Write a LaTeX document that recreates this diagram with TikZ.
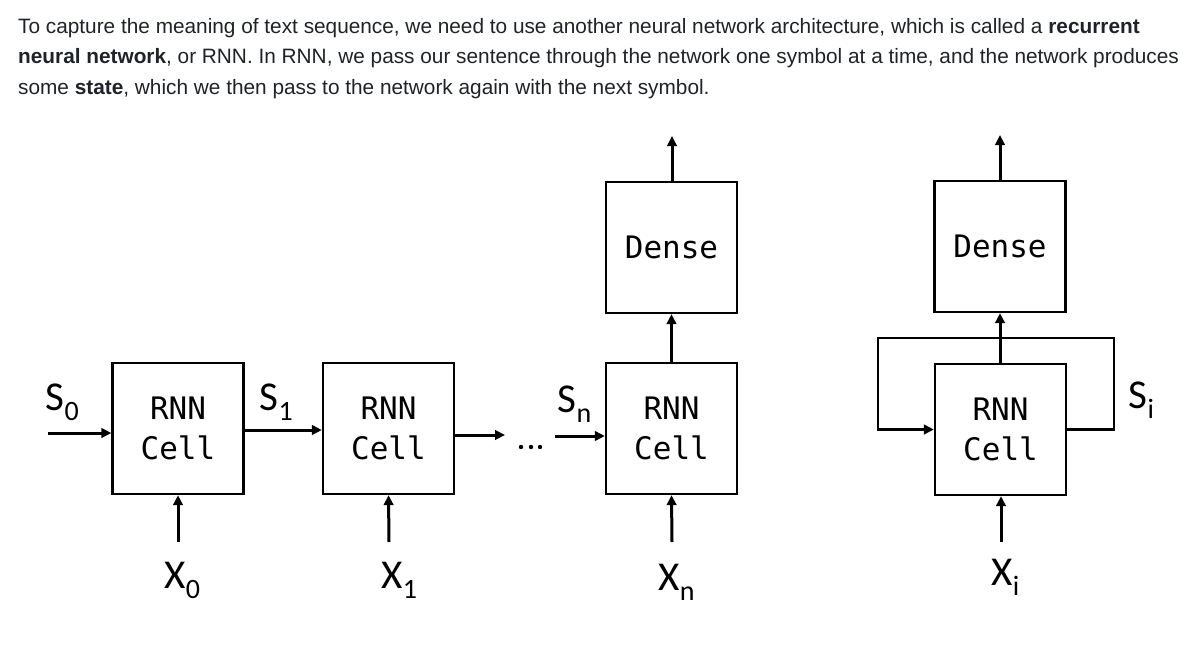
\documentclass[tikz,border=0pt]{standalone}
\usepackage{fontspec}
\setmainfont{Liberation Sans}
\newfontfamily\monof{DejaVu Sans Mono}
\newfontfamily\labf{Carlito}
\usetikzlibrary{arrows.meta}
\definecolor{txt}{HTML}{1F2328}
\newcommand\lbl[2]{#1\kern0.5pt\raisebox{-10.5pt}{\fontsize{28}{28}\selectfont #2}}
\tikzset{
  cell/.style={draw, line width=2.3pt, minimum width=131pt, minimum height=131pt, inner sep=0pt,
    font=\monof\fontsize{31}{40}\selectfont, align=center},
  arr/.style={line width=3pt, -{Triangle[length=10pt,width=9.5pt]}},
  loopline/.style={line width=2.8pt, -{Triangle[length=10pt,width=9.5pt]}},
  lab/.style={font=\labf\fontsize{41}{41}\selectfont, inner sep=0pt, anchor=base west},
  para/.style={anchor=base west, inner sep=0pt, font=\fontsize{20.8}{24}\selectfont, text=txt},
  dot/.style={fill=black},
}
\begin{document}
\begin{tikzpicture}[x=1pt,y=-1pt]
\useasboundingbox[fill=white] (0,0) rectangle (1200,645);
% paragraph
\node[para] (p1) at (18,33) {To capture the meaning of text sequence, we need to use another neural network architecture, which is called a \textbf{recurrent}};
\node[para] (p2) at (18,63) {\textbf{neural network}, or RNN. In RNN, we pass our sentence through the network one symbol at a time, and the network produces};
\node[para] (p3) at (18,94) {some \textbf{state}, which we then pass to the network again with the next symbol.};

% cells
\node[cell] (c1) at (178,428.5) {RNN\\Cell};
\node[cell] (c2) at (388.5,428.5) {RNN\\Cell};
\node[cell] (c3) at (671.5,428.5) {RNN\\Cell};
\node[cell] (c4) at (1000.5,429.5) {RNN\\Cell};
\node[cell] (d3) at (671.5,247.5) {Dense};
\node[cell] (d4) at (1000,246.5) {Dense};

% labels
\node[lab] (s0) at (45,410) {\lbl{S}{0}};
\node[lab] (s1) at (259,410) {\lbl{S}{1}};
\node[lab] (sn) at (557,412) {\lbl{S}{n}};
\node[lab] (si) at (1128,408) {\lbl{S}{i}};
\node[lab] (x0) at (164,588) {\lbl{X}{0}};
\node[lab] (x1) at (381,588) {\lbl{X}{1}};
\node[lab] (xn) at (658,590) {\lbl{X}{n}};
\node[lab] (xi) at (991,585) {\lbl{X}{i}};

% coordinates
\coordinate (in0) at (48,433);
\coordinate (dl) at (505,435);
\coordinate (dr) at (555,436);
\coordinate (o3) at (672,136);
\coordinate (o4) at (1000,135);
\coordinate (b1) at (178,542);
\coordinate (b2) at (389,542);
\coordinate (b3) at (672,542);
\coordinate (b4) at (1001,542);
\coordinate (loopR) at (1114,338);
\coordinate (loopL) at (878,338);

% horizontal state arrows
\draw[arr] (in0) -- (c1.west |- in0);
\draw[arr] ([yshift=-1.5pt]c1.east) -- ([yshift=-1.5pt]c2.west);
\draw[arr] (c2.east |- dl) -- (dl);
\draw[arr] (dr) -- (c3.west |- dr);
\fill[dot] (521,447) circle (2.2pt);
\fill[dot] (531,447) circle (2.2pt);
\fill[dot] (540,447) circle (2.2pt);

% inputs
\draw[arr] (b1) -- (c1.south);
\draw[arr] (b2) -- (c2.south);
\draw[arr] (b3) -- (c3.south);
\draw[arr] (b4) -- (c4.south -| b4);

% dense
\draw[arr] (c3.north) -- (d3.south);
\draw[arr] (d3.north -| o3) -- (o3);
\draw[arr] (c4.north -| o4) -- (d4.south -| o4);
\draw[arr] (d4.north -| o4) -- (o4);

% recurrent loop
\draw[loopline] (c4.east) -- (c4.east -| loopR) -- (loopR) -- (loopL) -- (loopL |- c4.west) -- (c4.west);
\end{tikzpicture}
\end{document}
